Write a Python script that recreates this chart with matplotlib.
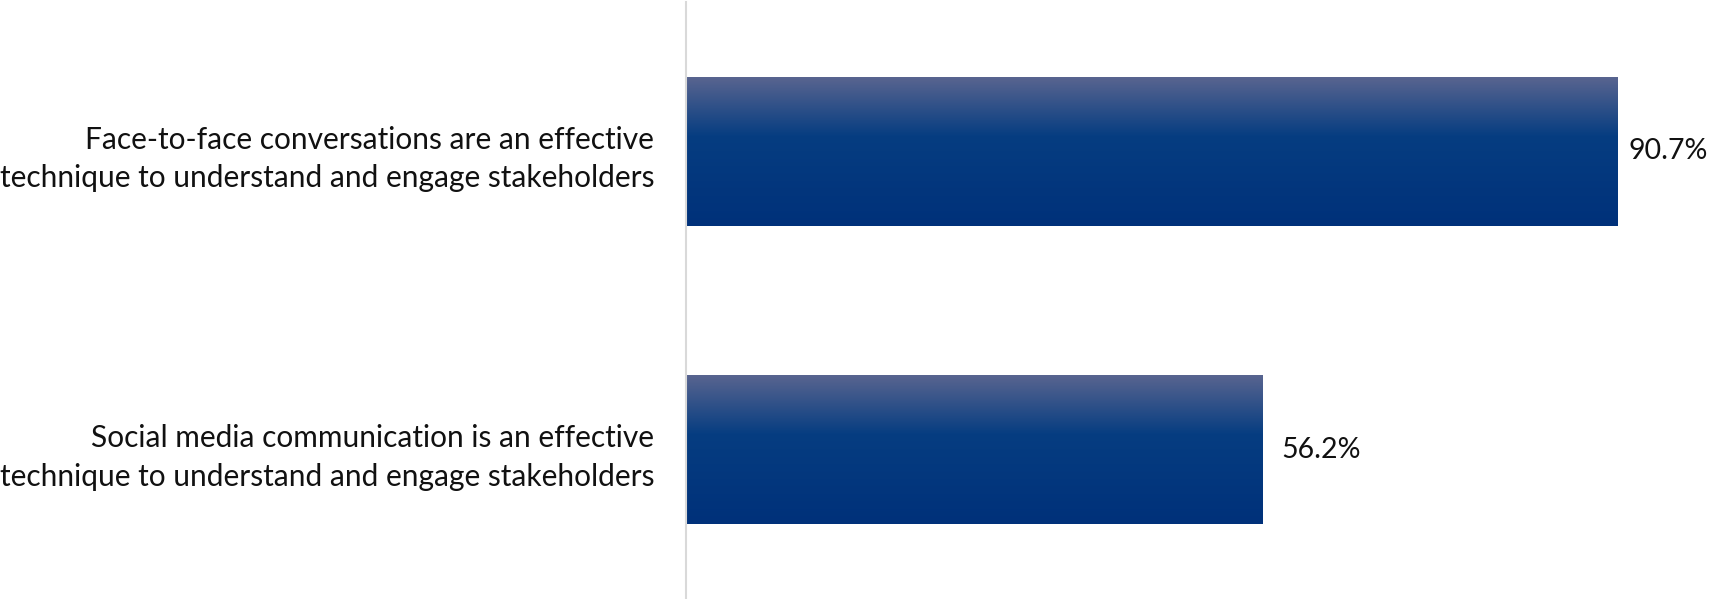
import numpy as np
import matplotlib
matplotlib.use('Agg')
import matplotlib.pyplot as plt
from matplotlib.colors import LinearSegmentedColormap

plt.rcParams['font.family'] = ['Lato', 'DejaVu Sans']

# survey statements and share agreeing (%)
statements = [
    'Face-to-face conversations are an effective\ntechnique to understand and engage stakeholders',
    'Social media communication is an effective\ntechnique to understand and engage stakeholders',
]
agree_pct = [90.7, 56.2]
value_labels = ['90.7%', '56.2%']

# vertical shading used inside the bars (top -> bottom)
bar_cmap = LinearSegmentedColormap.from_list(
    'bar_shade', [(0.0, '#5a6590'), (0.4, '#063d81'), (1.0, '#00317a')])

fig = plt.figure(figsize=(17.1, 5.99), dpi=100)
ax = fig.add_axes([686 / 1710, 0.0, 1 - 686 / 1710, 1 - 2 / 599])

ypos = np.arange(len(statements))
bars = ax.barh(ypos, agree_pct, height=0.5, color='none', edgecolor='none')

grad = np.linspace(0, 1, 256).reshape(-1, 1)
for patch in bars:
    x0, y0 = patch.get_x(), patch.get_y()
    w, h = patch.get_width(), patch.get_height()
    im = ax.imshow(grad, cmap=bar_cmap, aspect='auto',
                   extent=(x0, x0 + w, y0 + h, y0), origin='upper',
                   interpolation='bilinear', zorder=2)
    im.set_clip_path(patch)

# long bar leaves little room on the right, so its label sits closer
for y, v, lab in zip(ypos, agree_pct, value_labels):
    pad = 8 if v > 85 else 13
    ax.annotate(lab, xy=(v, y), xytext=(pad, 0), textcoords='offset points',
                ha='left', va='center', fontsize=20.5, color='#111111')

ax.set_xlim(0, 99.75)
ax.set_ylim(1.5, -0.5)
ax.set_yticks(ypos)
ax.set_yticklabels(statements, fontsize=21.5, multialignment='right',
                   linespacing=1.45, color='#111111')
ax.tick_params(axis='y', length=0, pad=23)
ax.set_xticks([])

for side in ['top', 'right', 'bottom']:
    ax.spines[side].set_visible(False)
ax.spines['left'].set_color('#d9d9d9')
ax.spines['left'].set_linewidth(1.5)

fig.savefig('out.png', dpi=100)
